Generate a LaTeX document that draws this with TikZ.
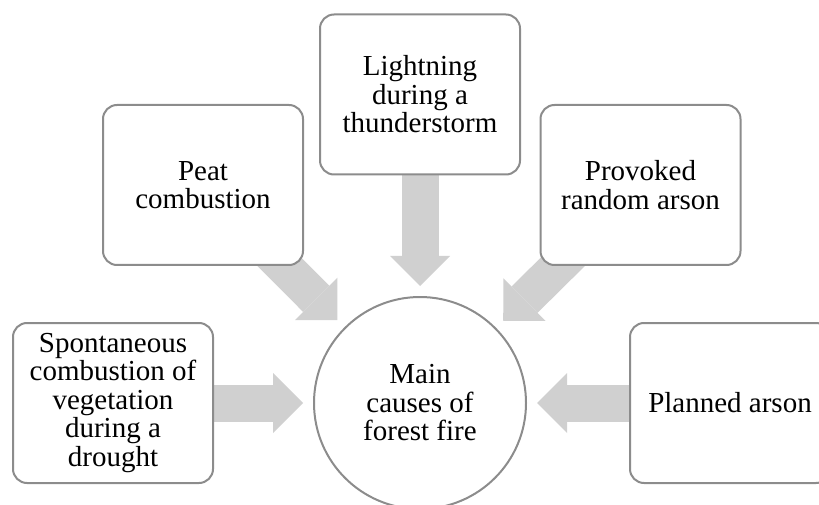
\documentclass[tikz,border=0pt]{standalone}
\usepackage{fontspec}
\setmainfont{Liberation Serif}
\usetikzlibrary{arrows.meta, backgrounds}
\definecolor{boxline}{RGB}{140,140,140}
\definecolor{arrowgray}{RGB}{208,208,208}

\begin{document}
\begin{tikzpicture}[
  x=1pt, y=1pt,
  every node/.style={font=\fontsize{29}{28.5}\selectfont, align=center},
  cause/.style={draw=boxline, line width=2pt, rounded corners=14pt, fill=white,
    minimum width=200pt, minimum height=160pt, inner sep=2pt},
  hub/.style={circle, draw=boxline, line width=2pt, fill=white,
    minimum size=212pt, inner sep=0pt},
  blockarrow/.style={draw=arrowgray, line width=37pt,
    -{Triangle[width=60pt, length=30pt, line width=0pt]},
    shorten >=10pt, shorten <=-20pt}
]
\path[use as bounding box, clip] (0,0) rectangle (819,504);

\node[hub] (main) at (420,101) {Main\\causes of\\forest fire};

\node[cause] (spont) at (113,101) {Spontaneous\\combustion of\\vegetation\\during a\\drought};
\node[cause] (peat) at (203,319) {Peat\\combustion};
\node[cause] (light) at (420,409.5) {Lightning\\during a\\thunderstorm};
\node[cause] (provoked) at (640.5,319) {Provoked\\random arson};
\node[cause] (planned) at (730,101) {Planned arson};

\begin{scope}[on background layer]
  \foreach \src in {spont,peat,light,provoked,planned}
    \draw[blockarrow] (\src) -- (main);
\end{scope}

\end{tikzpicture}
\end{document}
